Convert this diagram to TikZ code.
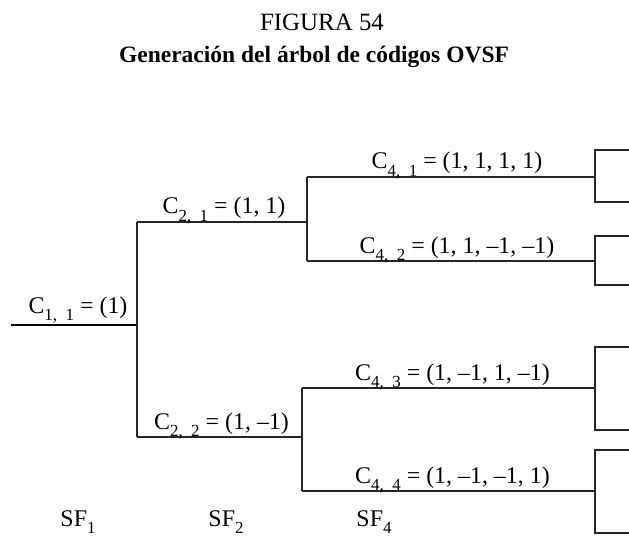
\documentclass[tikz,border=0pt]{standalone}
\usepackage{fontspec}
\setmainfont{Liberation Serif}
\usetikzlibrary{positioning,calc}
\newcommand{\sbs}[1]{\raisebox{-0.32em}{\fontsize{17}{17}\selectfont #1}}
\tikzset{
    branch/.style={draw=black!85, line width=1.1bp},
    stem/.style={draw=black, line width=1.6bp},
    bracket/.style={draw=black!85, line width=1.1bp},
    code/.style={font=\fontsize{24}{28}\selectfont, inner sep=0pt, anchor=base},
    sflabel/.style={font=\fontsize{24}{28}\selectfont, inner sep=0pt, anchor=base},
    caption/.style={font=\fontsize{25}{28}\selectfont, inner sep=0pt, anchor=base}
}

\begin{document}
\begin{tikzpicture}[x=1bp, y=-1bp]
\useasboundingbox (0,0) rectangle (629,538);

% ── Title ──
\node[caption] (fig) at (322,31) {FIGURA 54};
\node[caption, font=\fontsize{23.6}{28}\selectfont\bfseries] (title) at (314,63) {Generación del árbol de códigos OVSF};

% ── Branch points ──
\coordinate (c11a) at (11,325);
\coordinate (c11b) at (137,325);
\coordinate (c21a) at (137,222);
\coordinate (c21b) at (307,222);
\coordinate (c22a) at (137,437);
\coordinate (c22b) at (302,437);
\coordinate (c41a) at (307,177);
\coordinate (c41b) at (595,177);
\coordinate (c42a) at (307,261);
\coordinate (c42b) at (595,261);
\coordinate (c43a) at (302,388);
\coordinate (c43b) at (595,388);
\coordinate (c44a) at (302,491);
\coordinate (c44b) at (595,491);

% ── SF = 1 ──
\draw[stem] (c11a) -- (c11b);
\node[code] (l11) at ($(c11a)!0.5!(c11b)+(4,-12)$) {C\sbs{1,\enspace 1} = (1)};

% ── SF = 2 ──
\draw[branch] (c21a) -- (c22a);
\draw[branch] (c21a) -- (c21b);
\draw[branch] (c22a) -- (c22b);
\node[code] (l21) at ($(c21a)!0.5!(c21b)+(2,-8)$) {C\sbs{2,\enspace 1} = (1, 1)};
\node[code] (l22) at ($(c22a)!0.5!(c22b)+(2,-8)$) {C\sbs{2,\enspace 2} = (1, –1)};

% ── SF = 4 ──
\draw[branch] (c41a) -- (c42a);
\draw[branch] (c43a) -- (c44a);
\draw[branch] (c41a) -- (c41b);
\draw[branch] (c42a) -- (c42b);
\draw[branch] (c43a) -- (c43b);
\draw[branch] (c44a) -- (c44b);
\node[code] (l41) at ($(c41a)!0.5!(c41b)+(6,-8)$) {C\sbs{4,\enspace 1} = (1, 1, 1, 1)};
\node[code] (l42) at ($(c42a)!0.5!(c42b)+(6,-8)$) {C\sbs{4,\enspace 2} = (1, 1, –1, –1)};
\node[code] (l43) at ($(c43a)!0.5!(c43b)+(4,-8)$) {C\sbs{4,\enspace 3} = (1, –1, 1, –1)};
\node[code] (l44) at ($(c44a)!0.5!(c44b)+(4,-8)$) {C\sbs{4,\enspace 4} = (1, –1, –1, 1)};

% ── Next level (cut at the edge) ──
\draw[bracket] (629,150) -| (c41b) |- (629,202);
\draw[bracket] (629,236) -| (c42b) |- (629,285);
\draw[bracket] (629,347) -| (c43b) |- (629,430);
\draw[bracket] (629,450) -| (c44b) |- (629,533);

% ── Spreading factors ──
\node[sflabel] (sf1) at (78,526) {SF\sbs{1}};
\node[sflabel] (sf2) at (226,526) {SF\sbs{2}};
\node[sflabel] (sf4) at (374,526) {SF\sbs{4}};

\end{tikzpicture}
\end{document}
